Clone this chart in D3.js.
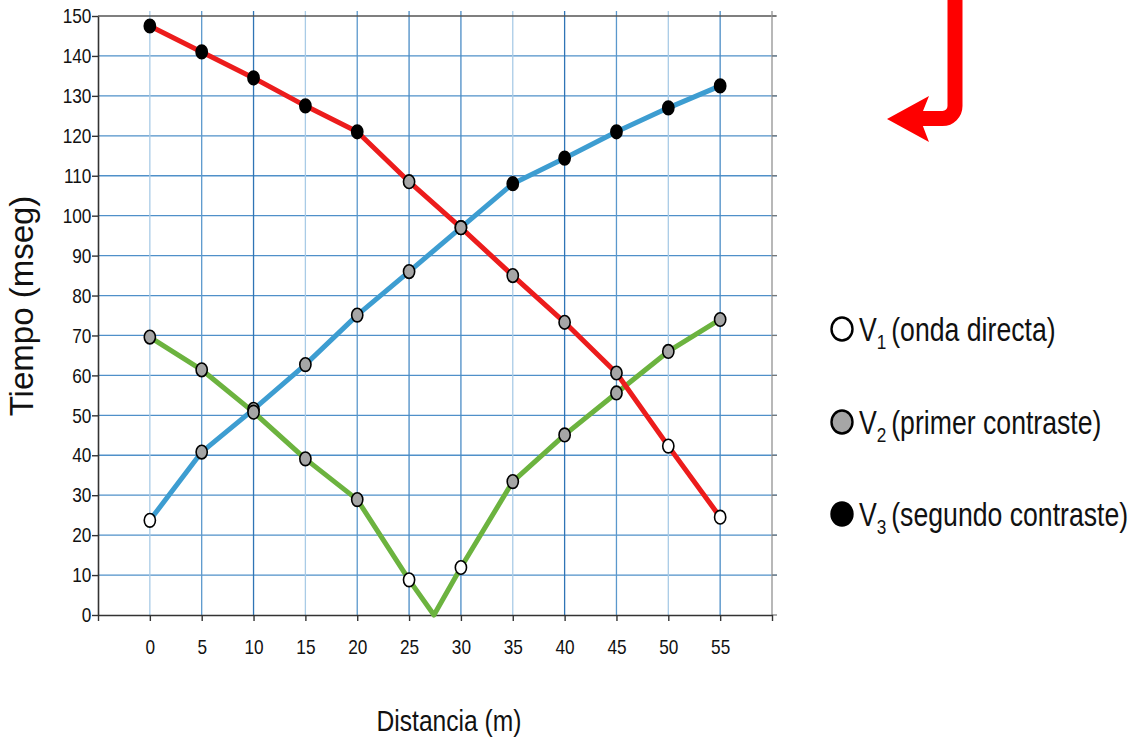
<!DOCTYPE html>
<html>
<head>
<meta charset="utf-8">
<script src="https://cdn.jsdelivr.net/npm/d3@7"></script>
<style>
  html, body { margin: 0; padding: 0; background: #ffffff; }
  svg { display: block; }
</style>
</head>
<body>
<svg id="chart" width="1136" height="739"></svg>
<script>
// ---------------- DATA ----------------
const distances = [0, 5, 10, 15, 20, 25, 30, 35, 40, 45, 50, 55];
const xTickValues = [-5, 0, 5, 10, 15, 20, 25, 30, 35, 40, 45, 50, 55, 60];
const xTickLabels = ["", "0", "5", "10", "15", "20", "25", "30", "35", "40", "45", "50", "55", ""];
const yTickValues = [0, 10, 20, 30, 40, 50, 60, 70, 80, 90, 100, 110, 120, 130, 140, 150];

// red series
const redTimes = [147.5, 141, 134.5, 127.5, 121, 108.5, 97, 85, 73.3, 60.6, 42.3, 24.5];
const redTypes = ["V3", "V3", "V3", "V3", "V3", "V2", "V2", "V2", "V2", "V2", "V1", "V1"];
// blue series
const blueTimes = [23.7, 40.8, 51.5, 62.7, 75.1, 86, 97, 108, 114.4, 121, 127, 132.5];
const blueTypes = ["V1", "V2", "V2", "V2", "V2", "V2", "V2", "V3", "V3", "V3", "V3", "V3"];
// green series (includes the vertex touching zero, no marker)
const greenDistances = [0, 5, 10, 15, 20, 25, 27.4, 30, 35, 40, 45, 50, 55];
const greenTimes = [69.6, 61.4, 50.8, 39.1, 28.9, 8.8, 0, 11.9, 33.4, 45.1, 55.6, 66, 74];
const greenTypes = ["V2", "V2", "V2", "V2", "V2", "V1", null, "V1", "V2", "V2", "V2", "V2", "V2"];

const legendKeys = ["V1", "V2", "V3"];
const legendSubs = ["1", "2", "3"];
const legendTexts = ["(onda directa)", "(primer contraste)", "(segundo contraste)"];

const xTitle = "Distancia (m)";
const yTitle = "Tiempo (mseg)";

// ---------------- STYLE ----------------
const markerFill = { V1: "#ffffff", V2: "#a6a6a6", V3: "#000000" };
const SANS = "'Liberation Sans', Arial, sans-serif";
const NARROW_SCALE = 0.82;

const svg = d3.select("#chart");
svg.append("rect").attr("width", 1136).attr("height", 739).attr("fill", "#fff");

const x = d3.scaleLinear().domain([-5, 60]).range([98, 772]);
const y = d3.scaleLinear().domain([0, 150]).range([615, 16]);

// vertical grid shading per tick (light / mid / dark)
const vShade = { 0: "#a9cbe6", 5: "#5b98cc", 10: "#2f74b5", 15: "#a9cbe6", 20: "#5b98cc",
  25: "#4a8cc6", 30: "#4a8cc6", 35: "#a9cbe6", 40: "#2f74b5", 45: "#5b98cc", 50: "#a9cbe6", 55: "#4a8cc6" };

const grid = svg.append("g");
grid.selectAll("line.h").data(yTickValues.filter(v => v > 0 && v < 150)).join("line")
  .attr("class", "h")
  .attr("x1", x(-5)).attr("x2", x(60) + 5)
  .attr("y1", d => y(d)).attr("y2", d => y(d))
  .attr("stroke", "#4f90c9").attr("stroke-width", 1.3);
grid.selectAll("line.v").data(xTickValues.filter(v => v > -5 && v < 60)).join("line")
  .attr("class", "v")
  .attr("x1", d => x(d)).attr("x2", d => x(d))
  .attr("y1", y(150) - 5).attr("y2", y(0))
  .attr("stroke", d => vShade[d] || "#5b98cc").attr("stroke-width", 1.3);

// frame: top and right
svg.append("line").attr("x1", x(-5)).attr("x2", x(60) + 4).attr("y1", y(150)).attr("y2", y(150))
  .attr("stroke", "#555").attr("stroke-width", 1.4);
svg.append("line").attr("x1", x(60)).attr("x2", x(60)).attr("y1", y(150) - 5).attr("y2", y(0))
  .attr("stroke", "#9a9a9a").attr("stroke-width", 1.4);
svg.append("g").selectAll("line").data(yTickValues).join("line")
  .attr("x1", x(60)).attr("x2", x(60) + 5)
  .attr("y1", d => y(d)).attr("y2", d => y(d))
  .attr("stroke", "#777").attr("stroke-width", 1.2);

// axes
const xAxis = d3.axisBottom(x).tickValues(xTickValues)
  .tickFormat((d, i) => xTickLabels[i]).tickSize(6).tickSizeOuter(0).tickPadding(18);
const gx = svg.append("g").attr("transform", `translate(0,${y(0)})`).call(xAxis);
gx.select(".domain").attr("stroke", "#333").attr("stroke-width", 1.6);
gx.selectAll(".tick line").attr("stroke", "#333").attr("stroke-width", 1.4);
gx.selectAll("text").attr("font-family", SANS).attr("font-size", 21).attr("fill", "#111")
  .attr("transform", `scale(${NARROW_SCALE},1)`);

const yAxis = d3.axisLeft(y).tickValues(yTickValues).tickSize(6).tickSizeOuter(0).tickPadding(2);
const gy = svg.append("g").attr("transform", `translate(${x(-5)},0)`).call(yAxis);
gy.select(".domain").attr("stroke", "#333").attr("stroke-width", 1.6);
gy.selectAll(".tick line").attr("stroke", "#333").attr("stroke-width", 1.4);
gy.selectAll("text").attr("font-family", SANS).attr("font-size", 21).attr("fill", "#111")
  .attr("transform", `scale(${NARROW_SCALE},1)`);

// series
const series = [
  { name: "blue", color: "#3d9dd1", xs: distances, ys: blueTimes, types: blueTypes },
  { name: "green", color: "#6cb33f", xs: greenDistances, ys: greenTimes, types: greenTypes },
  { name: "red", color: "#ec1c1c", xs: distances, ys: redTimes, types: redTypes }
];
const line = d3.line().x(d => x(d.x)).y(d => y(d.y));
series.forEach(s => {
  const pts = s.xs.map((xv, i) => ({ x: xv, y: s.ys[i], t: s.types[i] }));
  s.pts = pts;
  svg.append("path").datum(pts).attr("d", line)
    .attr("fill", "none").attr("stroke", s.color).attr("stroke-width", 5)
    .attr("stroke-linejoin", "round");
});
series.forEach(s => {
  svg.append("g").selectAll("ellipse").data(s.pts.filter(p => p.t)).join("ellipse")
    .attr("cx", d => x(d.x)).attr("cy", d => y(d.y))
    .attr("rx", 5.6).attr("ry", 6.8)
    .attr("fill", d => markerFill[d.t])
    .attr("stroke", "#000").attr("stroke-width", 1.6);
});

// axis titles
svg.append("text").attr("transform", `translate(449,731) scale(${NARROW_SCALE},1)`).attr("text-anchor", "middle")
  .attr("font-family", SANS).attr("font-size", 30).attr("fill", "#111").text(xTitle);
svg.append("text").attr("transform", "translate(33,306) rotate(-90)").attr("text-anchor", "middle")
  .attr("font-family", SANS).attr("font-size", 33).attr("fill", "#111").text(yTitle);

// legend
const legendY = [329, 422, 514];
const lg = svg.append("g");
legendKeys.forEach((k, i) => {
  lg.append("ellipse").attr("cx", 842).attr("cy", legendY[i]).attr("rx", 10.5).attr("ry", 11.5)
    .attr("fill", markerFill[k]).attr("stroke", "#000").attr("stroke-width", 2.4);
  const t = lg.append("text")
    .attr("transform", `translate(859,${legendY[i] + 12}) scale(${NARROW_SCALE},1)`)
    .attr("font-family", SANS).attr("font-size", 32.5).attr("fill", "#111");
  t.append("tspan").text("V");
  t.append("tspan").attr("font-size", 21).attr("dy", 8).text(legendSubs[i]);
  t.append("tspan").attr("dy", -8).attr("dx", 6).text(legendTexts[i]);
});

// red arrow annotation
svg.append("path")
  .attr("d", "M955,0 V106 A12.5,12.5 0 0 1 942.5,118.5 H918")
  .attr("fill", "none").attr("stroke", "#fe0000").attr("stroke-width", 15);
svg.append("path")
  .attr("d", "M887,119 L929,96 L920,118.5 L929,142 Z")
  .attr("fill", "#fe0000");
</script>
</body>
</html>
